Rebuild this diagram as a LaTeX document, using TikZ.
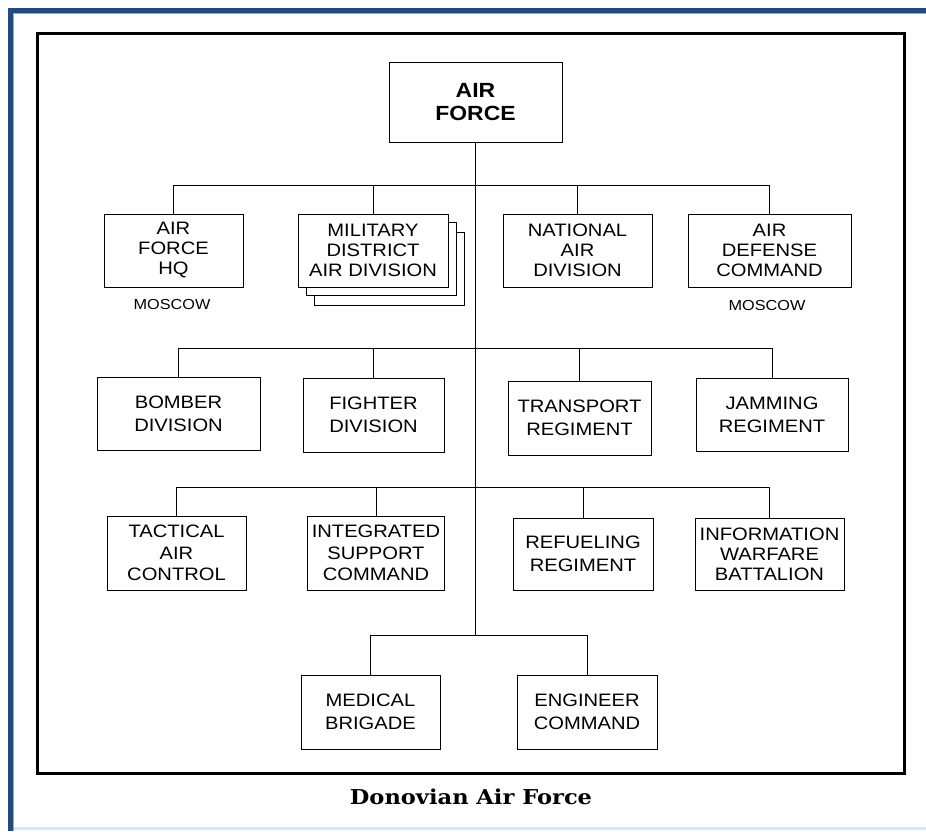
\documentclass[tikz,border=0pt]{standalone}
\usepackage{fontspec}
\setmainfont[FakeStretch=1.12]{Liberation Sans}
\newfontfamily\capfont[FakeStretch=1.1]{DejaVu Serif}
\definecolor{frameblue}{RGB}{34,76,126}
\definecolor{framelight}{RGB}{140,168,204}
\definecolor{framepale}{RGB}{220,230,242}
\begin{document}
\begin{tikzpicture}[x=1pt,y=1pt,
  box/.style={draw,line width=0.9pt,fill=white,inner sep=0pt,align=center,
    minimum height=73,font=\fontsize{18}{20}\selectfont},
  twoline/.style={font=\fontsize{18}{23}\selectfont},
  threeb/.style={font=\fontsize{18}{21.7}\selectfont},
  note/.style={inner sep=0pt,font=\fontsize{14.5}{16}\selectfont},
  conn/.style={line width=0.9pt}]
\useasboundingbox (0,0) rectangle (926,-831);
% outer page frame
\fill[frameblue] (8,-8) rectangle (926,-13);
\fill[frameblue] (8,-8) rectangle (13,-831);
\draw[framelight,line width=1pt] (13,-13.5) -- (926,-13.5);
\draw[framelight,line width=1pt] (13.5,-13) -- (13.5,-831);
\fill[framepale] (14,-827) rectangle (926,-830);
% inner black frame
\draw[line width=3pt] (37.5,-33.5) rectangle (904.5,-773.5);
% top
\node[box,minimum width=173,minimum height=80,font=\bfseries\fontsize{20.5}{23}\selectfont] (af) at (475.5,-102) {AIR\\FORCE};
% row 1
\node[box,minimum width=139] (afhq) at (173.5,-250.5) {AIR\\FORCE\\HQ};
\node[box,minimum width=150] (mdad3) at (389.5,-269) {};
\node[box,minimum width=150] (mdad2) at (381.5,-259) {};
\node[box,minimum width=150] (mdad) at (373,-250.5) {MILITARY\\DISTRICT\\AIR DIVISION};
\node[box,minimum width=149] (nad) at (577.5,-250.5) {NATIONAL\\AIR\\DIVISION};
\node[box,minimum width=163] (adc) at (769.5,-250.5) {AIR\\DEFENSE\\COMMAND};
\node[note] (m1) at (172,-304) {MOSCOW};
\node[note] (m2) at (767,-305) {MOSCOW};
% row 2
\node[box,twoline,minimum width=163] (bomb) at (178.5,-413.5) {BOMBER\\DIVISION};
\node[box,twoline,minimum width=141,minimum height=74] (fight) at (373.5,-415) {FIGHTER\\DIVISION};
\node[box,twoline,minimum width=143,minimum height=74] (trans) at (579.5,-418) {TRANSPORT\\REGIMENT};
\node[box,twoline,minimum width=152] (jam) at (772,-414.5) {JAMMING\\REGIMENT};
% row 3
\node[box,threeb,minimum width=139,minimum height=74] (tac) at (176.5,-553) {TACTICAL\\AIR\\CONTROL};
\node[box,threeb,minimum width=137,minimum height=74] (isc) at (376,-553) {INTEGRATED\\SUPPORT\\COMMAND};
\node[box,twoline,minimum width=140,minimum height=72] (ref) at (583,-554) {REFUELING\\REGIMENT};
\node[box,minimum width=149,minimum height=72] (iwb) at (769.5,-554) {INFORMATION\\WARFARE\\BATTALION};
% row 4
\node[box,twoline,minimum width=139,minimum height=74] (med) at (370.5,-712) {MEDICAL\\BRIGADE};
\node[box,twoline,minimum width=140,minimum height=74] (eng) at (587,-712) {ENGINEER\\COMMAND};
% caption
\node[inner sep=0pt,font=\capfont\bfseries\fontsize{20.5}{24}\selectfont] (cap) at (471,-797) {Donovian Air Force};
% bus coordinates
\coordinate (b1) at (475.5,-185.5);
\coordinate (b2) at (475.5,-348.5);
\coordinate (b3) at (475.5,-487);
\coordinate (b4) at (475.5,-635.5);
% connectors
\begin{scope}[conn]
\draw (af.south) -- (b4);
\draw (afhq.north) -- (afhq.north |- b1) -- (adc.north |- b1) -- (adc.north);
\draw (mdad.north) -- (mdad.north |- b1);
\draw (nad.north) -- (nad.north |- b1);
\draw (bomb.north) -- (bomb.north |- b2) -- (jam.north |- b2) -- (jam.north);
\draw (fight.north) -- (fight.north |- b2);
\draw (trans.north) -- (trans.north |- b2);
\draw (tac.north) -- (tac.north |- b3) -- (iwb.north |- b3) -- (iwb.north);
\draw (isc.north) -- (isc.north |- b3);
\draw (ref.north) -- (ref.north |- b3);
\draw (med.north) -- (med.north |- b4) -- (eng.north |- b4) -- (eng.north);
\end{scope}
\end{tikzpicture}
\end{document}
